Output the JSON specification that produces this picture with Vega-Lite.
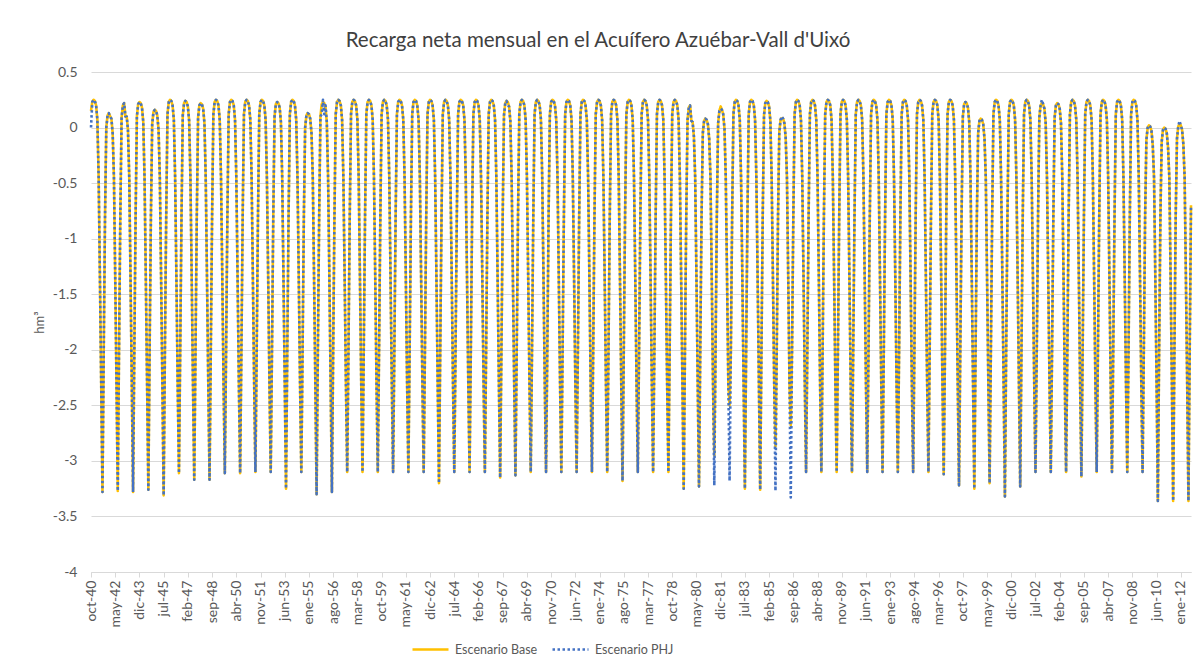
{
"$schema":"https://vega.github.io/schema/vega-lite/v6.json",
"width":1100,"height":500,
"autosize":"none",
"padding":{"left":91,"top":72,"right":5,"bottom":96},
"background":"white",
"title":{"text":"Recarga neta mensual en el Acuífero Azuébar-Vall d'Uixó","font":"Lato","fontSize":20.5,"fontWeight":"normal","color":"#404040","dx":-43,"offset":14,"anchor":"middle"},
"data":{"values":[
{"m":"oct-40","Base":0.15,"PHJ":0},{"m":"nov-40","Base":0.23,"PHJ":0.23},{"m":"dic-40","Base":0.25,"PHJ":0.25},{"m":"ene-41","Base":0.24,"PHJ":0.24},{"m":"feb-41","Base":0.2,"PHJ":0.2},{"m":"mar-41","Base":0.07,"PHJ":0.07},{"m":"abr-41","Base":-0.45,"PHJ":-0.45},{"m":"may-41","Base":-1.35,"PHJ":-1.35},{"m":"jun-41","Base":-2.3,"PHJ":-2.3},{"m":"jul-41","Base":-3.28,"PHJ":-3.28},{"m":"ago-41","Base":-2,"PHJ":-2},{"m":"sep-41","Base":-0.8,"PHJ":-0.8},
{"m":"oct-41","Base":0,"PHJ":0},{"m":"nov-41","Base":0.11,"PHJ":0.11},{"m":"dic-41","Base":0.13,"PHJ":0.13},{"m":"ene-42","Base":0.1,"PHJ":0.1},{"m":"feb-42","Base":0.08,"PHJ":0.08},{"m":"mar-42","Base":-0.05,"PHJ":-0.05},{"m":"abr-42","Base":-0.45,"PHJ":-0.45},{"m":"may-42","Base":-1.35,"PHJ":-1.35},{"m":"jun-42","Base":-2.3,"PHJ":-2.3},{"m":"jul-42","Base":-3.27,"PHJ":-3.27},{"m":"ago-42","Base":-2,"PHJ":-2},{"m":"sep-42","Base":-0.8,"PHJ":-0.8},
{"m":"oct-42","Base":0.09,"PHJ":0.09},{"m":"nov-42","Base":0.2,"PHJ":0.2},{"m":"dic-42","Base":0.22,"PHJ":0.22},{"m":"ene-43","Base":0.1,"PHJ":0.1},{"m":"feb-43","Base":0.1,"PHJ":0.1},{"m":"mar-43","Base":-0.02,"PHJ":-0.02},{"m":"abr-43","Base":-0.45,"PHJ":-0.45},{"m":"may-43","Base":-1.35,"PHJ":-1.35},{"m":"jun-43","Base":-2.3,"PHJ":-2.3},{"m":"jul-43","Base":-3.28,"PHJ":-3.28},{"m":"ago-43","Base":-2,"PHJ":-2},{"m":"sep-43","Base":-0.8,"PHJ":-0.8},
{"m":"oct-43","Base":0.1,"PHJ":0.1},{"m":"nov-43","Base":0.21,"PHJ":0.21},{"m":"dic-43","Base":0.23,"PHJ":0.23},{"m":"ene-44","Base":0.22,"PHJ":0.22},{"m":"feb-44","Base":0.18,"PHJ":0.18},{"m":"mar-44","Base":0.05,"PHJ":0.05},{"m":"abr-44","Base":-0.45,"PHJ":-0.45},{"m":"may-44","Base":-1.35,"PHJ":-1.35},{"m":"jun-44","Base":-2.3,"PHJ":-2.3},{"m":"jul-44","Base":-3.26,"PHJ":-3.26},{"m":"ago-44","Base":-2,"PHJ":-2},{"m":"sep-44","Base":-0.8,"PHJ":-0.8},
{"m":"oct-44","Base":0.03,"PHJ":0.03},{"m":"nov-44","Base":0.14,"PHJ":0.14},{"m":"dic-44","Base":0.16,"PHJ":0.16},{"m":"ene-45","Base":0.15,"PHJ":0.15},{"m":"feb-45","Base":0.11,"PHJ":0.11},{"m":"mar-45","Base":-0.02,"PHJ":-0.02},{"m":"abr-45","Base":-0.45,"PHJ":-0.45},{"m":"may-45","Base":-1.35,"PHJ":-1.35},{"m":"jun-45","Base":-2.3,"PHJ":-2.3},{"m":"jul-45","Base":-3.31,"PHJ":-3.31},{"m":"ago-45","Base":-2,"PHJ":-2},{"m":"sep-45","Base":-0.8,"PHJ":-0.8},
{"m":"oct-45","Base":0.12,"PHJ":0.12},{"m":"nov-45","Base":0.23,"PHJ":0.23},{"m":"dic-45","Base":0.25,"PHJ":0.25},{"m":"ene-46","Base":0.24,"PHJ":0.24},{"m":"feb-46","Base":0.2,"PHJ":0.2},{"m":"mar-46","Base":0.07,"PHJ":0.07},{"m":"abr-46","Base":-0.45,"PHJ":-0.45},{"m":"may-46","Base":-1.35,"PHJ":-1.35},{"m":"jun-46","Base":-2.3,"PHJ":-2.3},{"m":"jul-46","Base":-3.11,"PHJ":-3.11},{"m":"ago-46","Base":-2,"PHJ":-2},{"m":"sep-46","Base":-0.8,"PHJ":-0.8},
{"m":"oct-46","Base":0.11,"PHJ":0.11},{"m":"nov-46","Base":0.22,"PHJ":0.22},{"m":"dic-46","Base":0.24,"PHJ":0.24},{"m":"ene-47","Base":0.23,"PHJ":0.23},{"m":"feb-47","Base":0.19,"PHJ":0.19},{"m":"mar-47","Base":0.06,"PHJ":0.06},{"m":"abr-47","Base":-0.45,"PHJ":-0.45},{"m":"may-47","Base":-1.35,"PHJ":-1.35},{"m":"jun-47","Base":-2.3,"PHJ":-2.3},{"m":"jul-47","Base":-3.17,"PHJ":-3.17},{"m":"ago-47","Base":-2,"PHJ":-2},{"m":"sep-47","Base":-0.8,"PHJ":-0.8},
{"m":"oct-47","Base":0.09,"PHJ":0.09},{"m":"nov-47","Base":0.2,"PHJ":0.2},{"m":"dic-47","Base":0.22,"PHJ":0.22},{"m":"ene-48","Base":0.21,"PHJ":0.21},{"m":"feb-48","Base":0.17,"PHJ":0.17},{"m":"mar-48","Base":0.04,"PHJ":0.04},{"m":"abr-48","Base":-0.45,"PHJ":-0.45},{"m":"may-48","Base":-1.35,"PHJ":-1.35},{"m":"jun-48","Base":-2.3,"PHJ":-2.3},{"m":"jul-48","Base":-3.17,"PHJ":-3.17},{"m":"ago-48","Base":-2,"PHJ":-2},{"m":"sep-48","Base":-0.8,"PHJ":-0.8},
{"m":"oct-48","Base":0.12,"PHJ":0.12},{"m":"nov-48","Base":0.23,"PHJ":0.23},{"m":"dic-48","Base":0.25,"PHJ":0.25},{"m":"ene-49","Base":0.24,"PHJ":0.24},{"m":"feb-49","Base":0.2,"PHJ":0.2},{"m":"mar-49","Base":0.07,"PHJ":0.07},{"m":"abr-49","Base":-0.45,"PHJ":-0.45},{"m":"may-49","Base":-1.35,"PHJ":-1.35},{"m":"jun-49","Base":-2.3,"PHJ":-2.3},{"m":"jul-49","Base":-3.11,"PHJ":-3.11},{"m":"ago-49","Base":-2,"PHJ":-2},{"m":"sep-49","Base":-0.8,"PHJ":-0.8},
{"m":"oct-49","Base":0.12,"PHJ":0.12},{"m":"nov-49","Base":0.23,"PHJ":0.23},{"m":"dic-49","Base":0.25,"PHJ":0.25},{"m":"ene-50","Base":0.24,"PHJ":0.24},{"m":"feb-50","Base":0.2,"PHJ":0.2},{"m":"mar-50","Base":0.07,"PHJ":0.07},{"m":"abr-50","Base":-0.45,"PHJ":-0.45},{"m":"may-50","Base":-1.35,"PHJ":-1.35},{"m":"jun-50","Base":-2.3,"PHJ":-2.3},{"m":"jul-50","Base":-3.11,"PHJ":-3.11},{"m":"ago-50","Base":-2,"PHJ":-2},{"m":"sep-50","Base":-0.8,"PHJ":-0.8},
{"m":"oct-50","Base":0.12,"PHJ":0.12},{"m":"nov-50","Base":0.23,"PHJ":0.23},{"m":"dic-50","Base":0.25,"PHJ":0.25},{"m":"ene-51","Base":0.24,"PHJ":0.24},{"m":"feb-51","Base":0.2,"PHJ":0.2},{"m":"mar-51","Base":0.07,"PHJ":0.07},{"m":"abr-51","Base":-0.45,"PHJ":-0.45},{"m":"may-51","Base":-1.35,"PHJ":-1.35},{"m":"jun-51","Base":-2.3,"PHJ":-2.3},{"m":"jul-51","Base":-3.1,"PHJ":-3.1},{"m":"ago-51","Base":-2,"PHJ":-2},{"m":"sep-51","Base":-0.8,"PHJ":-0.8},
{"m":"oct-51","Base":0.12,"PHJ":0.12},{"m":"nov-51","Base":0.23,"PHJ":0.23},{"m":"dic-51","Base":0.25,"PHJ":0.25},{"m":"ene-52","Base":0.24,"PHJ":0.24},{"m":"feb-52","Base":0.2,"PHJ":0.2},{"m":"mar-52","Base":0.07,"PHJ":0.07},{"m":"abr-52","Base":-0.45,"PHJ":-0.45},{"m":"may-52","Base":-1.35,"PHJ":-1.35},{"m":"jun-52","Base":-2.3,"PHJ":-2.3},{"m":"jul-52","Base":-3.1,"PHJ":-3.1},{"m":"ago-52","Base":-2,"PHJ":-2},{"m":"sep-52","Base":-0.8,"PHJ":-0.8},
{"m":"oct-52","Base":0.1,"PHJ":0.1},{"m":"nov-52","Base":0.21,"PHJ":0.21},{"m":"dic-52","Base":0.23,"PHJ":0.23},{"m":"ene-53","Base":0.22,"PHJ":0.22},{"m":"feb-53","Base":0.18,"PHJ":0.18},{"m":"mar-53","Base":0.05,"PHJ":0.05},{"m":"abr-53","Base":-0.45,"PHJ":-0.45},{"m":"may-53","Base":-1.35,"PHJ":-1.35},{"m":"jun-53","Base":-2.3,"PHJ":-2.3},{"m":"jul-53","Base":-3.25,"PHJ":-3.25},{"m":"ago-53","Base":-2,"PHJ":-2},{"m":"sep-53","Base":-0.8,"PHJ":-0.8},
{"m":"oct-53","Base":0.12,"PHJ":0.12},{"m":"nov-53","Base":0.23,"PHJ":0.23},{"m":"dic-53","Base":0.25,"PHJ":0.25},{"m":"ene-54","Base":0.24,"PHJ":0.24},{"m":"feb-54","Base":0.2,"PHJ":0.2},{"m":"mar-54","Base":0.07,"PHJ":0.07},{"m":"abr-54","Base":-0.45,"PHJ":-0.45},{"m":"may-54","Base":-1.35,"PHJ":-1.35},{"m":"jun-54","Base":-2.3,"PHJ":-2.3},{"m":"jul-54","Base":-3.1,"PHJ":-3.1},{"m":"ago-54","Base":-2,"PHJ":-2},{"m":"sep-54","Base":-0.8,"PHJ":-0.8},
{"m":"oct-54","Base":0,"PHJ":0},{"m":"nov-54","Base":0.11,"PHJ":0.11},{"m":"dic-54","Base":0.13,"PHJ":0.13},{"m":"ene-55","Base":0.12,"PHJ":0.12},{"m":"feb-55","Base":0.08,"PHJ":0.08},{"m":"mar-55","Base":-0.05,"PHJ":-0.05},{"m":"abr-55","Base":-0.45,"PHJ":-0.45},{"m":"may-55","Base":-1.35,"PHJ":-1.35},{"m":"jun-55","Base":-2.3,"PHJ":-2.3},{"m":"jul-55","Base":-3.3,"PHJ":-3.3},{"m":"ago-55","Base":-2,"PHJ":-2},{"m":"sep-55","Base":-0.8,"PHJ":-0.8},
{"m":"oct-55","Base":0.1,"PHJ":0.1},{"m":"nov-55","Base":0.21,"PHJ":0.12},{"m":"dic-55","Base":0.23,"PHJ":0.25},{"m":"ene-56","Base":0.22,"PHJ":0.12},{"m":"feb-56","Base":0.18,"PHJ":0.2},{"m":"mar-56","Base":0.05,"PHJ":0.05},{"m":"abr-56","Base":-0.45,"PHJ":-0.45},{"m":"may-56","Base":-1.35,"PHJ":-1.35},{"m":"jun-56","Base":-2.3,"PHJ":-2.3},{"m":"jul-56","Base":-3.28,"PHJ":-3.28},{"m":"ago-56","Base":-2,"PHJ":-2},{"m":"sep-56","Base":-0.8,"PHJ":-0.8},
{"m":"oct-56","Base":0.12,"PHJ":0.12},{"m":"nov-56","Base":0.23,"PHJ":0.23},{"m":"dic-56","Base":0.25,"PHJ":0.25},{"m":"ene-57","Base":0.24,"PHJ":0.24},{"m":"feb-57","Base":0.2,"PHJ":0.2},{"m":"mar-57","Base":0.07,"PHJ":0.07},{"m":"abr-57","Base":-0.45,"PHJ":-0.45},{"m":"may-57","Base":-1.35,"PHJ":-1.35},{"m":"jun-57","Base":-2.3,"PHJ":-2.3},{"m":"jul-57","Base":-3.1,"PHJ":-3.1},{"m":"ago-57","Base":-2,"PHJ":-2},{"m":"sep-57","Base":-0.8,"PHJ":-0.8},
{"m":"oct-57","Base":0.12,"PHJ":0.12},{"m":"nov-57","Base":0.23,"PHJ":0.23},{"m":"dic-57","Base":0.25,"PHJ":0.25},{"m":"ene-58","Base":0.24,"PHJ":0.24},{"m":"feb-58","Base":0.2,"PHJ":0.2},{"m":"mar-58","Base":0.07,"PHJ":0.07},{"m":"abr-58","Base":-0.45,"PHJ":-0.45},{"m":"may-58","Base":-1.35,"PHJ":-1.35},{"m":"jun-58","Base":-2.3,"PHJ":-2.3},{"m":"jul-58","Base":-3.1,"PHJ":-3.1},{"m":"ago-58","Base":-2,"PHJ":-2},{"m":"sep-58","Base":-0.8,"PHJ":-0.8},
{"m":"oct-58","Base":0.12,"PHJ":0.12},{"m":"nov-58","Base":0.23,"PHJ":0.23},{"m":"dic-58","Base":0.25,"PHJ":0.25},{"m":"ene-59","Base":0.24,"PHJ":0.24},{"m":"feb-59","Base":0.2,"PHJ":0.2},{"m":"mar-59","Base":0.07,"PHJ":0.07},{"m":"abr-59","Base":-0.45,"PHJ":-0.45},{"m":"may-59","Base":-1.35,"PHJ":-1.35},{"m":"jun-59","Base":-2.3,"PHJ":-2.3},{"m":"jul-59","Base":-3.1,"PHJ":-3.1},{"m":"ago-59","Base":-2,"PHJ":-2},{"m":"sep-59","Base":-0.8,"PHJ":-0.8},
{"m":"oct-59","Base":0.12,"PHJ":0.12},{"m":"nov-59","Base":0.23,"PHJ":0.23},{"m":"dic-59","Base":0.25,"PHJ":0.25},{"m":"ene-60","Base":0.24,"PHJ":0.24},{"m":"feb-60","Base":0.2,"PHJ":0.2},{"m":"mar-60","Base":0.07,"PHJ":0.07},{"m":"abr-60","Base":-0.45,"PHJ":-0.45},{"m":"may-60","Base":-1.35,"PHJ":-1.35},{"m":"jun-60","Base":-2.3,"PHJ":-2.3},{"m":"jul-60","Base":-3.1,"PHJ":-3.1},{"m":"ago-60","Base":-2,"PHJ":-2},{"m":"sep-60","Base":-0.8,"PHJ":-0.8},
{"m":"oct-60","Base":0.12,"PHJ":0.12},{"m":"nov-60","Base":0.23,"PHJ":0.23},{"m":"dic-60","Base":0.25,"PHJ":0.25},{"m":"ene-61","Base":0.24,"PHJ":0.24},{"m":"feb-61","Base":0.2,"PHJ":0.2},{"m":"mar-61","Base":0.07,"PHJ":0.07},{"m":"abr-61","Base":-0.45,"PHJ":-0.45},{"m":"may-61","Base":-1.35,"PHJ":-1.35},{"m":"jun-61","Base":-2.3,"PHJ":-2.3},{"m":"jul-61","Base":-3.1,"PHJ":-3.1},{"m":"ago-61","Base":-2,"PHJ":-2},{"m":"sep-61","Base":-0.8,"PHJ":-0.8},
{"m":"oct-61","Base":0.12,"PHJ":0.12},{"m":"nov-61","Base":0.23,"PHJ":0.23},{"m":"dic-61","Base":0.25,"PHJ":0.25},{"m":"ene-62","Base":0.24,"PHJ":0.24},{"m":"feb-62","Base":0.2,"PHJ":0.2},{"m":"mar-62","Base":0.07,"PHJ":0.07},{"m":"abr-62","Base":-0.45,"PHJ":-0.45},{"m":"may-62","Base":-1.35,"PHJ":-1.35},{"m":"jun-62","Base":-2.3,"PHJ":-2.3},{"m":"jul-62","Base":-3.1,"PHJ":-3.1},{"m":"ago-62","Base":-2,"PHJ":-2},{"m":"sep-62","Base":-0.8,"PHJ":-0.8},
{"m":"oct-62","Base":0.12,"PHJ":0.12},{"m":"nov-62","Base":0.23,"PHJ":0.23},{"m":"dic-62","Base":0.25,"PHJ":0.25},{"m":"ene-63","Base":0.24,"PHJ":0.24},{"m":"feb-63","Base":0.2,"PHJ":0.2},{"m":"mar-63","Base":0.07,"PHJ":0.07},{"m":"abr-63","Base":-0.45,"PHJ":-0.45},{"m":"may-63","Base":-1.35,"PHJ":-1.35},{"m":"jun-63","Base":-2.3,"PHJ":-2.3},{"m":"jul-63","Base":-3.2,"PHJ":-3.2},{"m":"ago-63","Base":-2,"PHJ":-2},{"m":"sep-63","Base":-0.8,"PHJ":-0.8},
{"m":"oct-63","Base":0.12,"PHJ":0.12},{"m":"nov-63","Base":0.23,"PHJ":0.23},{"m":"dic-63","Base":0.25,"PHJ":0.25},{"m":"ene-64","Base":0.24,"PHJ":0.24},{"m":"feb-64","Base":0.2,"PHJ":0.2},{"m":"mar-64","Base":0.07,"PHJ":0.07},{"m":"abr-64","Base":-0.45,"PHJ":-0.45},{"m":"may-64","Base":-1.35,"PHJ":-1.35},{"m":"jun-64","Base":-2.3,"PHJ":-2.3},{"m":"jul-64","Base":-3.1,"PHJ":-3.1},{"m":"ago-64","Base":-2,"PHJ":-2},{"m":"sep-64","Base":-0.8,"PHJ":-0.8},
{"m":"oct-64","Base":0.12,"PHJ":0.12},{"m":"nov-64","Base":0.23,"PHJ":0.23},{"m":"dic-64","Base":0.25,"PHJ":0.25},{"m":"ene-65","Base":0.24,"PHJ":0.24},{"m":"feb-65","Base":0.2,"PHJ":0.2},{"m":"mar-65","Base":0.07,"PHJ":0.07},{"m":"abr-65","Base":-0.45,"PHJ":-0.45},{"m":"may-65","Base":-1.35,"PHJ":-1.35},{"m":"jun-65","Base":-2.3,"PHJ":-2.3},{"m":"jul-65","Base":-3.1,"PHJ":-3.1},{"m":"ago-65","Base":-2,"PHJ":-2},{"m":"sep-65","Base":-0.8,"PHJ":-0.8},
{"m":"oct-65","Base":0.12,"PHJ":0.12},{"m":"nov-65","Base":0.23,"PHJ":0.23},{"m":"dic-65","Base":0.25,"PHJ":0.25},{"m":"ene-66","Base":0.24,"PHJ":0.24},{"m":"feb-66","Base":0.2,"PHJ":0.2},{"m":"mar-66","Base":0.07,"PHJ":0.07},{"m":"abr-66","Base":-0.45,"PHJ":-0.45},{"m":"may-66","Base":-1.35,"PHJ":-1.35},{"m":"jun-66","Base":-2.3,"PHJ":-2.3},{"m":"jul-66","Base":-3.1,"PHJ":-3.1},{"m":"ago-66","Base":-2,"PHJ":-2},{"m":"sep-66","Base":-0.8,"PHJ":-0.8},
{"m":"oct-66","Base":0.12,"PHJ":0.12},{"m":"nov-66","Base":0.23,"PHJ":0.23},{"m":"dic-66","Base":0.25,"PHJ":0.25},{"m":"ene-67","Base":0.24,"PHJ":0.24},{"m":"feb-67","Base":0.2,"PHJ":0.2},{"m":"mar-67","Base":0.07,"PHJ":0.07},{"m":"abr-67","Base":-0.45,"PHJ":-0.45},{"m":"may-67","Base":-1.35,"PHJ":-1.35},{"m":"jun-67","Base":-2.3,"PHJ":-2.3},{"m":"jul-67","Base":-3.15,"PHJ":-3.15},{"m":"ago-67","Base":-2,"PHJ":-2},{"m":"sep-67","Base":-0.8,"PHJ":-0.8},
{"m":"oct-67","Base":0.11,"PHJ":0.11},{"m":"nov-67","Base":0.22,"PHJ":0.22},{"m":"dic-67","Base":0.24,"PHJ":0.24},{"m":"ene-68","Base":0.23,"PHJ":0.2},{"m":"feb-68","Base":0.19,"PHJ":0.19},{"m":"mar-68","Base":0.06,"PHJ":0.06},{"m":"abr-68","Base":-0.45,"PHJ":-0.45},{"m":"may-68","Base":-1.35,"PHJ":-1.35},{"m":"jun-68","Base":-2.3,"PHJ":-2.3},{"m":"jul-68","Base":-3.13,"PHJ":-3.13},{"m":"ago-68","Base":-2,"PHJ":-2},{"m":"sep-68","Base":-0.8,"PHJ":-0.8},
{"m":"oct-68","Base":0.12,"PHJ":0.12},{"m":"nov-68","Base":0.23,"PHJ":0.23},{"m":"dic-68","Base":0.25,"PHJ":0.25},{"m":"ene-69","Base":0.24,"PHJ":0.24},{"m":"feb-69","Base":0.2,"PHJ":0.2},{"m":"mar-69","Base":0.07,"PHJ":0.07},{"m":"abr-69","Base":-0.45,"PHJ":-0.45},{"m":"may-69","Base":-1.35,"PHJ":-1.35},{"m":"jun-69","Base":-2.3,"PHJ":-2.3},{"m":"jul-69","Base":-3.1,"PHJ":-3.1},{"m":"ago-69","Base":-2,"PHJ":-2},{"m":"sep-69","Base":-0.8,"PHJ":-0.8},
{"m":"oct-69","Base":0.12,"PHJ":0.12},{"m":"nov-69","Base":0.23,"PHJ":0.23},{"m":"dic-69","Base":0.25,"PHJ":0.25},{"m":"ene-70","Base":0.24,"PHJ":0.24},{"m":"feb-70","Base":0.2,"PHJ":0.2},{"m":"mar-70","Base":0.07,"PHJ":0.07},{"m":"abr-70","Base":-0.45,"PHJ":-0.45},{"m":"may-70","Base":-1.35,"PHJ":-1.35},{"m":"jun-70","Base":-2.3,"PHJ":-2.3},{"m":"jul-70","Base":-3.1,"PHJ":-3.1},{"m":"ago-70","Base":-2,"PHJ":-2},{"m":"sep-70","Base":-0.8,"PHJ":-0.8},
{"m":"oct-70","Base":0.12,"PHJ":0.12},{"m":"nov-70","Base":0.23,"PHJ":0.23},{"m":"dic-70","Base":0.25,"PHJ":0.25},{"m":"ene-71","Base":0.24,"PHJ":0.24},{"m":"feb-71","Base":0.2,"PHJ":0.2},{"m":"mar-71","Base":0.07,"PHJ":0.07},{"m":"abr-71","Base":-0.45,"PHJ":-0.45},{"m":"may-71","Base":-1.35,"PHJ":-1.35},{"m":"jun-71","Base":-2.3,"PHJ":-2.3},{"m":"jul-71","Base":-3.1,"PHJ":-3.1},{"m":"ago-71","Base":-2,"PHJ":-2},{"m":"sep-71","Base":-0.8,"PHJ":-0.8},
{"m":"oct-71","Base":0.12,"PHJ":0.12},{"m":"nov-71","Base":0.23,"PHJ":0.23},{"m":"dic-71","Base":0.25,"PHJ":0.25},{"m":"ene-72","Base":0.24,"PHJ":0.24},{"m":"feb-72","Base":0.2,"PHJ":0.2},{"m":"mar-72","Base":0.07,"PHJ":0.07},{"m":"abr-72","Base":-0.45,"PHJ":-0.45},{"m":"may-72","Base":-1.35,"PHJ":-1.35},{"m":"jun-72","Base":-2.3,"PHJ":-2.3},{"m":"jul-72","Base":-3.1,"PHJ":-3.1},{"m":"ago-72","Base":-2,"PHJ":-2},{"m":"sep-72","Base":-0.8,"PHJ":-0.8},
{"m":"oct-72","Base":0.12,"PHJ":0.12},{"m":"nov-72","Base":0.23,"PHJ":0.23},{"m":"dic-72","Base":0.25,"PHJ":0.25},{"m":"ene-73","Base":0.24,"PHJ":0.24},{"m":"feb-73","Base":0.2,"PHJ":0.2},{"m":"mar-73","Base":0.07,"PHJ":0.07},{"m":"abr-73","Base":-0.45,"PHJ":-0.45},{"m":"may-73","Base":-1.35,"PHJ":-1.35},{"m":"jun-73","Base":-2.3,"PHJ":-2.3},{"m":"jul-73","Base":-3.1,"PHJ":-3.1},{"m":"ago-73","Base":-2,"PHJ":-2},{"m":"sep-73","Base":-0.8,"PHJ":-0.8},
{"m":"oct-73","Base":0.12,"PHJ":0.12},{"m":"nov-73","Base":0.23,"PHJ":0.23},{"m":"dic-73","Base":0.25,"PHJ":0.25},{"m":"ene-74","Base":0.24,"PHJ":0.24},{"m":"feb-74","Base":0.2,"PHJ":0.2},{"m":"mar-74","Base":0.07,"PHJ":0.07},{"m":"abr-74","Base":-0.45,"PHJ":-0.45},{"m":"may-74","Base":-1.35,"PHJ":-1.35},{"m":"jun-74","Base":-2.3,"PHJ":-2.3},{"m":"jul-74","Base":-3.1,"PHJ":-3.1},{"m":"ago-74","Base":-2,"PHJ":-2},{"m":"sep-74","Base":-0.8,"PHJ":-0.8},
{"m":"oct-74","Base":0.12,"PHJ":0.12},{"m":"nov-74","Base":0.23,"PHJ":0.23},{"m":"dic-74","Base":0.25,"PHJ":0.25},{"m":"ene-75","Base":0.24,"PHJ":0.24},{"m":"feb-75","Base":0.2,"PHJ":0.2},{"m":"mar-75","Base":0.07,"PHJ":0.07},{"m":"abr-75","Base":-0.45,"PHJ":-0.45},{"m":"may-75","Base":-1.35,"PHJ":-1.35},{"m":"jun-75","Base":-2.3,"PHJ":-2.3},{"m":"jul-75","Base":-3.18,"PHJ":-3.18},{"m":"ago-75","Base":-2,"PHJ":-2},{"m":"sep-75","Base":-0.8,"PHJ":-0.8},
{"m":"oct-75","Base":0.12,"PHJ":0.12},{"m":"nov-75","Base":0.23,"PHJ":0.23},{"m":"dic-75","Base":0.25,"PHJ":0.25},{"m":"ene-76","Base":0.24,"PHJ":0.24},{"m":"feb-76","Base":0.2,"PHJ":0.2},{"m":"mar-76","Base":0.07,"PHJ":0.07},{"m":"abr-76","Base":-0.45,"PHJ":-0.45},{"m":"may-76","Base":-1.35,"PHJ":-1.35},{"m":"jun-76","Base":-2.3,"PHJ":-2.3},{"m":"jul-76","Base":-3.1,"PHJ":-3.1},{"m":"ago-76","Base":-2,"PHJ":-2},{"m":"sep-76","Base":-0.8,"PHJ":-0.8},
{"m":"oct-76","Base":0.12,"PHJ":0.12},{"m":"nov-76","Base":0.23,"PHJ":0.23},{"m":"dic-76","Base":0.25,"PHJ":0.25},{"m":"ene-77","Base":0.24,"PHJ":0.24},{"m":"feb-77","Base":0.2,"PHJ":0.2},{"m":"mar-77","Base":0.07,"PHJ":0.07},{"m":"abr-77","Base":-0.45,"PHJ":-0.45},{"m":"may-77","Base":-1.35,"PHJ":-1.35},{"m":"jun-77","Base":-2.3,"PHJ":-2.3},{"m":"jul-77","Base":-3.1,"PHJ":-3.1},{"m":"ago-77","Base":-2,"PHJ":-2},{"m":"sep-77","Base":-0.8,"PHJ":-0.8},
{"m":"oct-77","Base":0.12,"PHJ":0.12},{"m":"nov-77","Base":0.23,"PHJ":0.23},{"m":"dic-77","Base":0.25,"PHJ":0.25},{"m":"ene-78","Base":0.24,"PHJ":0.24},{"m":"feb-78","Base":0.2,"PHJ":0.2},{"m":"mar-78","Base":0.07,"PHJ":0.07},{"m":"abr-78","Base":-0.45,"PHJ":-0.45},{"m":"may-78","Base":-1.35,"PHJ":-1.35},{"m":"jun-78","Base":-2.3,"PHJ":-2.3},{"m":"jul-78","Base":-3.1,"PHJ":-3.1},{"m":"ago-78","Base":-2,"PHJ":-2},{"m":"sep-78","Base":-0.8,"PHJ":-0.8},
{"m":"oct-78","Base":0.12,"PHJ":0.12},{"m":"nov-78","Base":0.23,"PHJ":0.23},{"m":"dic-78","Base":0.25,"PHJ":0.25},{"m":"ene-79","Base":0.24,"PHJ":0.24},{"m":"feb-79","Base":0.2,"PHJ":0.2},{"m":"mar-79","Base":0.07,"PHJ":0.07},{"m":"abr-79","Base":-0.45,"PHJ":-0.45},{"m":"may-79","Base":-1.35,"PHJ":-1.35},{"m":"jun-79","Base":-2.3,"PHJ":-2.3},{"m":"jul-79","Base":-3.25,"PHJ":-3.25},{"m":"ago-79","Base":-2,"PHJ":-2},{"m":"sep-79","Base":-0.8,"PHJ":-0.8},
{"m":"oct-79","Base":0.07,"PHJ":0.07},{"m":"nov-79","Base":0.18,"PHJ":0.18},{"m":"dic-79","Base":0.2,"PHJ":0.2},{"m":"ene-80","Base":0.06,"PHJ":0.06},{"m":"feb-80","Base":0.05,"PHJ":0.05},{"m":"mar-80","Base":-0.08,"PHJ":-0.08},{"m":"abr-80","Base":-0.45,"PHJ":-0.45},{"m":"may-80","Base":-1.35,"PHJ":-1.35},{"m":"jun-80","Base":-2.3,"PHJ":-2.3},{"m":"jul-80","Base":-3.23,"PHJ":-3.23},{"m":"ago-80","Base":-2,"PHJ":-2},{"m":"sep-80","Base":-0.8,"PHJ":-0.8},
{"m":"oct-80","Base":-0.05,"PHJ":-0.05},{"m":"nov-80","Base":0.06,"PHJ":0.06},{"m":"dic-80","Base":0.08,"PHJ":0.08},{"m":"ene-81","Base":0.07,"PHJ":0.07},{"m":"feb-81","Base":0.03,"PHJ":0.03},{"m":"mar-81","Base":-0.1,"PHJ":-0.1},{"m":"abr-81","Base":-0.45,"PHJ":-0.45},{"m":"may-81","Base":-1.35,"PHJ":-1.35},{"m":"jun-81","Base":-2.3,"PHJ":-2.3},{"m":"jul-81","Base":-2.95,"PHJ":-3.22},{"m":"ago-81","Base":-2,"PHJ":-2},{"m":"sep-81","Base":-0.8,"PHJ":-0.8},
{"m":"oct-81","Base":0.04,"PHJ":0.04},{"m":"nov-81","Base":0.15,"PHJ":0.15},{"m":"dic-81","Base":0.19,"PHJ":0.17},{"m":"ene-82","Base":0.16,"PHJ":0.16},{"m":"feb-82","Base":0.12,"PHJ":0.12},{"m":"mar-82","Base":-0.01,"PHJ":-0.01},{"m":"abr-82","Base":-0.45,"PHJ":-0.45},{"m":"may-82","Base":-1.35,"PHJ":-1.35},{"m":"jun-82","Base":-2.3,"PHJ":-2.3},{"m":"jul-82","Base":-2.5,"PHJ":-3.18},{"m":"ago-82","Base":-2,"PHJ":-2},{"m":"sep-82","Base":-0.8,"PHJ":-0.8},
{"m":"oct-82","Base":0.12,"PHJ":0.12},{"m":"nov-82","Base":0.23,"PHJ":0.23},{"m":"dic-82","Base":0.25,"PHJ":0.25},{"m":"ene-83","Base":0.24,"PHJ":0.24},{"m":"feb-83","Base":0.2,"PHJ":0.2},{"m":"mar-83","Base":0.07,"PHJ":0.07},{"m":"abr-83","Base":-0.45,"PHJ":-0.45},{"m":"may-83","Base":-1.35,"PHJ":-1.35},{"m":"jun-83","Base":-2.3,"PHJ":-2.3},{"m":"jul-83","Base":-3.25,"PHJ":-3.25},{"m":"ago-83","Base":-2,"PHJ":-2},{"m":"sep-83","Base":-0.8,"PHJ":-0.8},
{"m":"oct-83","Base":0.12,"PHJ":0.12},{"m":"nov-83","Base":0.23,"PHJ":0.23},{"m":"dic-83","Base":0.25,"PHJ":0.25},{"m":"ene-84","Base":0.24,"PHJ":0.24},{"m":"feb-84","Base":0.2,"PHJ":0.2},{"m":"mar-84","Base":0.07,"PHJ":0.07},{"m":"abr-84","Base":-0.45,"PHJ":-0.45},{"m":"may-84","Base":-1.35,"PHJ":-1.35},{"m":"jun-84","Base":-2.3,"PHJ":-2.3},{"m":"jul-84","Base":-3.26,"PHJ":-3.26},{"m":"ago-84","Base":-2,"PHJ":-2},{"m":"sep-84","Base":-0.8,"PHJ":-0.8},
{"m":"oct-84","Base":0.11,"PHJ":0.11},{"m":"nov-84","Base":0.22,"PHJ":0.22},{"m":"dic-84","Base":0.24,"PHJ":0.24},{"m":"ene-85","Base":0.23,"PHJ":0.23},{"m":"feb-85","Base":0.19,"PHJ":0.19},{"m":"mar-85","Base":0.06,"PHJ":0.06},{"m":"abr-85","Base":-0.45,"PHJ":-0.45},{"m":"may-85","Base":-1.35,"PHJ":-1.35},{"m":"jun-85","Base":-2.3,"PHJ":-2.3},{"m":"jul-85","Base":-2.87,"PHJ":-3.27},{"m":"ago-85","Base":-2,"PHJ":-2},{"m":"sep-85","Base":-0.8,"PHJ":-0.8},
{"m":"oct-85","Base":-0.04,"PHJ":-0.04},{"m":"nov-85","Base":0.07,"PHJ":0.07},{"m":"dic-85","Base":0.09,"PHJ":0.1},{"m":"ene-86","Base":0.08,"PHJ":0.08},{"m":"feb-86","Base":0.04,"PHJ":0.04},{"m":"mar-86","Base":-0.09,"PHJ":-0.09},{"m":"abr-86","Base":-0.45,"PHJ":-0.45},{"m":"may-86","Base":-1.35,"PHJ":-1.35},{"m":"jun-86","Base":-2.3,"PHJ":-2.3},{"m":"jul-86","Base":-2.68,"PHJ":-3.33},{"m":"ago-86","Base":-2,"PHJ":-2},{"m":"sep-86","Base":-0.8,"PHJ":-0.8},
{"m":"oct-86","Base":0.12,"PHJ":0.12},{"m":"nov-86","Base":0.23,"PHJ":0.23},{"m":"dic-86","Base":0.25,"PHJ":0.25},{"m":"ene-87","Base":0.24,"PHJ":0.24},{"m":"feb-87","Base":0.2,"PHJ":0.2},{"m":"mar-87","Base":0.07,"PHJ":0.07},{"m":"abr-87","Base":-0.45,"PHJ":-0.45},{"m":"may-87","Base":-1.35,"PHJ":-1.35},{"m":"jun-87","Base":-2.3,"PHJ":-2.3},{"m":"jul-87","Base":-3.1,"PHJ":-3.1},{"m":"ago-87","Base":-2,"PHJ":-2},{"m":"sep-87","Base":-0.8,"PHJ":-0.8},
{"m":"oct-87","Base":0.12,"PHJ":0.12},{"m":"nov-87","Base":0.23,"PHJ":0.23},{"m":"dic-87","Base":0.25,"PHJ":0.25},{"m":"ene-88","Base":0.24,"PHJ":0.24},{"m":"feb-88","Base":0.2,"PHJ":0.2},{"m":"mar-88","Base":0.07,"PHJ":0.07},{"m":"abr-88","Base":-0.45,"PHJ":-0.45},{"m":"may-88","Base":-1.35,"PHJ":-1.35},{"m":"jun-88","Base":-2.3,"PHJ":-2.3},{"m":"jul-88","Base":-3.1,"PHJ":-3.1},{"m":"ago-88","Base":-2,"PHJ":-2},{"m":"sep-88","Base":-0.8,"PHJ":-0.8},
{"m":"oct-88","Base":0.12,"PHJ":0.12},{"m":"nov-88","Base":0.23,"PHJ":0.23},{"m":"dic-88","Base":0.25,"PHJ":0.25},{"m":"ene-89","Base":0.24,"PHJ":0.24},{"m":"feb-89","Base":0.2,"PHJ":0.2},{"m":"mar-89","Base":0.07,"PHJ":0.07},{"m":"abr-89","Base":-0.45,"PHJ":-0.45},{"m":"may-89","Base":-1.35,"PHJ":-1.35},{"m":"jun-89","Base":-2.3,"PHJ":-2.3},{"m":"jul-89","Base":-3.1,"PHJ":-3.1},{"m":"ago-89","Base":-2,"PHJ":-2},{"m":"sep-89","Base":-0.8,"PHJ":-0.8},
{"m":"oct-89","Base":0.12,"PHJ":0.12},{"m":"nov-89","Base":0.23,"PHJ":0.23},{"m":"dic-89","Base":0.25,"PHJ":0.25},{"m":"ene-90","Base":0.24,"PHJ":0.24},{"m":"feb-90","Base":0.2,"PHJ":0.2},{"m":"mar-90","Base":0.07,"PHJ":0.07},{"m":"abr-90","Base":-0.45,"PHJ":-0.45},{"m":"may-90","Base":-1.35,"PHJ":-1.35},{"m":"jun-90","Base":-2.3,"PHJ":-2.3},{"m":"jul-90","Base":-3.1,"PHJ":-3.1},{"m":"ago-90","Base":-2,"PHJ":-2},{"m":"sep-90","Base":-0.8,"PHJ":-0.8},
{"m":"oct-90","Base":0.12,"PHJ":0.12},{"m":"nov-90","Base":0.23,"PHJ":0.23},{"m":"dic-90","Base":0.25,"PHJ":0.25},{"m":"ene-91","Base":0.24,"PHJ":0.24},{"m":"feb-91","Base":0.2,"PHJ":0.2},{"m":"mar-91","Base":0.07,"PHJ":0.07},{"m":"abr-91","Base":-0.45,"PHJ":-0.45},{"m":"may-91","Base":-1.35,"PHJ":-1.35},{"m":"jun-91","Base":-2.3,"PHJ":-2.3},{"m":"jul-91","Base":-3.1,"PHJ":-3.1},{"m":"ago-91","Base":-2,"PHJ":-2},{"m":"sep-91","Base":-0.8,"PHJ":-0.8},
{"m":"oct-91","Base":0.12,"PHJ":0.12},{"m":"nov-91","Base":0.23,"PHJ":0.23},{"m":"dic-91","Base":0.25,"PHJ":0.25},{"m":"ene-92","Base":0.24,"PHJ":0.24},{"m":"feb-92","Base":0.2,"PHJ":0.2},{"m":"mar-92","Base":0.07,"PHJ":0.07},{"m":"abr-92","Base":-0.45,"PHJ":-0.45},{"m":"may-92","Base":-1.35,"PHJ":-1.35},{"m":"jun-92","Base":-2.3,"PHJ":-2.3},{"m":"jul-92","Base":-3.1,"PHJ":-3.1},{"m":"ago-92","Base":-2,"PHJ":-2},{"m":"sep-92","Base":-0.8,"PHJ":-0.8},
{"m":"oct-92","Base":0.12,"PHJ":0.12},{"m":"nov-92","Base":0.23,"PHJ":0.23},{"m":"dic-92","Base":0.25,"PHJ":0.25},{"m":"ene-93","Base":0.24,"PHJ":0.24},{"m":"feb-93","Base":0.2,"PHJ":0.2},{"m":"mar-93","Base":0.07,"PHJ":0.07},{"m":"abr-93","Base":-0.45,"PHJ":-0.45},{"m":"may-93","Base":-1.35,"PHJ":-1.35},{"m":"jun-93","Base":-2.3,"PHJ":-2.3},{"m":"jul-93","Base":-3.1,"PHJ":-3.1},{"m":"ago-93","Base":-2,"PHJ":-2},{"m":"sep-93","Base":-0.8,"PHJ":-0.8},
{"m":"oct-93","Base":0.12,"PHJ":0.12},{"m":"nov-93","Base":0.23,"PHJ":0.23},{"m":"dic-93","Base":0.25,"PHJ":0.25},{"m":"ene-94","Base":0.24,"PHJ":0.24},{"m":"feb-94","Base":0.2,"PHJ":0.2},{"m":"mar-94","Base":0.07,"PHJ":0.07},{"m":"abr-94","Base":-0.45,"PHJ":-0.45},{"m":"may-94","Base":-1.35,"PHJ":-1.35},{"m":"jun-94","Base":-2.3,"PHJ":-2.3},{"m":"jul-94","Base":-3.1,"PHJ":-3.1},{"m":"ago-94","Base":-2,"PHJ":-2},{"m":"sep-94","Base":-0.8,"PHJ":-0.8},
{"m":"oct-94","Base":0.12,"PHJ":0.12},{"m":"nov-94","Base":0.23,"PHJ":0.23},{"m":"dic-94","Base":0.25,"PHJ":0.25},{"m":"ene-95","Base":0.24,"PHJ":0.24},{"m":"feb-95","Base":0.2,"PHJ":0.2},{"m":"mar-95","Base":0.07,"PHJ":0.07},{"m":"abr-95","Base":-0.45,"PHJ":-0.45},{"m":"may-95","Base":-1.35,"PHJ":-1.35},{"m":"jun-95","Base":-2.3,"PHJ":-2.3},{"m":"jul-95","Base":-3.1,"PHJ":-3.1},{"m":"ago-95","Base":-2,"PHJ":-2},{"m":"sep-95","Base":-0.8,"PHJ":-0.8},
{"m":"oct-95","Base":0.12,"PHJ":0.12},{"m":"nov-95","Base":0.23,"PHJ":0.23},{"m":"dic-95","Base":0.25,"PHJ":0.25},{"m":"ene-96","Base":0.24,"PHJ":0.24},{"m":"feb-96","Base":0.2,"PHJ":0.2},{"m":"mar-96","Base":0.07,"PHJ":0.07},{"m":"abr-96","Base":-0.45,"PHJ":-0.45},{"m":"may-96","Base":-1.35,"PHJ":-1.35},{"m":"jun-96","Base":-2.3,"PHJ":-2.3},{"m":"jul-96","Base":-3.12,"PHJ":-3.12},{"m":"ago-96","Base":-2,"PHJ":-2},{"m":"sep-96","Base":-0.8,"PHJ":-0.8},
{"m":"oct-96","Base":0.12,"PHJ":0.12},{"m":"nov-96","Base":0.23,"PHJ":0.23},{"m":"dic-96","Base":0.25,"PHJ":0.25},{"m":"ene-97","Base":0.24,"PHJ":0.24},{"m":"feb-97","Base":0.2,"PHJ":0.2},{"m":"mar-97","Base":0.07,"PHJ":0.07},{"m":"abr-97","Base":-0.45,"PHJ":-0.45},{"m":"may-97","Base":-1.35,"PHJ":-1.35},{"m":"jun-97","Base":-2.3,"PHJ":-2.3},{"m":"jul-97","Base":-3.22,"PHJ":-3.22},{"m":"ago-97","Base":-2,"PHJ":-2},{"m":"sep-97","Base":-0.8,"PHJ":-0.8},
{"m":"oct-97","Base":0.1,"PHJ":0.1},{"m":"nov-97","Base":0.21,"PHJ":0.21},{"m":"dic-97","Base":0.23,"PHJ":0.23},{"m":"ene-98","Base":0.22,"PHJ":0.22},{"m":"feb-98","Base":0.18,"PHJ":0.18},{"m":"mar-98","Base":0.05,"PHJ":0.05},{"m":"abr-98","Base":-0.45,"PHJ":-0.45},{"m":"may-98","Base":-1.35,"PHJ":-1.35},{"m":"jun-98","Base":-2.3,"PHJ":-2.3},{"m":"jul-98","Base":-3.25,"PHJ":-3.25},{"m":"ago-98","Base":-2,"PHJ":-2},{"m":"sep-98","Base":-0.8,"PHJ":-0.8},
{"m":"oct-98","Base":-0.05,"PHJ":-0.05},{"m":"nov-98","Base":0.06,"PHJ":0.06},{"m":"dic-98","Base":0.08,"PHJ":0.08},{"m":"ene-99","Base":0.07,"PHJ":0.07},{"m":"feb-99","Base":0.03,"PHJ":0.03},{"m":"mar-99","Base":-0.1,"PHJ":-0.1},{"m":"abr-99","Base":-0.45,"PHJ":-0.45},{"m":"may-99","Base":-1.35,"PHJ":-1.35},{"m":"jun-99","Base":-2.3,"PHJ":-2.3},{"m":"jul-99","Base":-3.2,"PHJ":-3.2},{"m":"ago-99","Base":-2,"PHJ":-2},{"m":"sep-99","Base":-0.8,"PHJ":-0.8},
{"m":"oct-99","Base":0.12,"PHJ":0.12},{"m":"nov-99","Base":0.23,"PHJ":0.23},{"m":"dic-99","Base":0.25,"PHJ":0.25},{"m":"ene-00","Base":0.24,"PHJ":0.24},{"m":"feb-00","Base":0.2,"PHJ":0.2},{"m":"mar-00","Base":0.07,"PHJ":0.07},{"m":"abr-00","Base":-0.45,"PHJ":-0.45},{"m":"may-00","Base":-1.35,"PHJ":-1.35},{"m":"jun-00","Base":-2.3,"PHJ":-2.3},{"m":"jul-00","Base":-3.32,"PHJ":-3.32},{"m":"ago-00","Base":-2,"PHJ":-2},{"m":"sep-00","Base":-0.8,"PHJ":-0.8},
{"m":"oct-00","Base":0.12,"PHJ":0.12},{"m":"nov-00","Base":0.23,"PHJ":0.23},{"m":"dic-00","Base":0.25,"PHJ":0.25},{"m":"ene-01","Base":0.24,"PHJ":0.24},{"m":"feb-01","Base":0.2,"PHJ":0.2},{"m":"mar-01","Base":0.07,"PHJ":0.07},{"m":"abr-01","Base":-0.45,"PHJ":-0.45},{"m":"may-01","Base":-1.35,"PHJ":-1.35},{"m":"jun-01","Base":-2.3,"PHJ":-2.3},{"m":"jul-01","Base":-3.23,"PHJ":-3.23},{"m":"ago-01","Base":-2,"PHJ":-2},{"m":"sep-01","Base":-0.8,"PHJ":-0.8},
{"m":"oct-01","Base":0.12,"PHJ":0.12},{"m":"nov-01","Base":0.23,"PHJ":0.23},{"m":"dic-01","Base":0.25,"PHJ":0.25},{"m":"ene-02","Base":0.24,"PHJ":0.24},{"m":"feb-02","Base":0.2,"PHJ":0.2},{"m":"mar-02","Base":0.07,"PHJ":0.07},{"m":"abr-02","Base":-0.45,"PHJ":-0.45},{"m":"may-02","Base":-1.35,"PHJ":-1.35},{"m":"jun-02","Base":-2.3,"PHJ":-2.3},{"m":"jul-02","Base":-3.1,"PHJ":-3.1},{"m":"ago-02","Base":-2,"PHJ":-2},{"m":"sep-02","Base":-0.8,"PHJ":-0.8},
{"m":"oct-02","Base":0.09,"PHJ":0.09},{"m":"nov-02","Base":0.2,"PHJ":0.2},{"m":"dic-02","Base":0.22,"PHJ":0.25},{"m":"ene-03","Base":0.21,"PHJ":0.21},{"m":"feb-03","Base":0.17,"PHJ":0.17},{"m":"mar-03","Base":0.04,"PHJ":0.04},{"m":"abr-03","Base":-0.45,"PHJ":-0.45},{"m":"may-03","Base":-1.35,"PHJ":-1.35},{"m":"jun-03","Base":-2.3,"PHJ":-2.3},{"m":"jul-03","Base":-3.1,"PHJ":-3.1},{"m":"ago-03","Base":-2,"PHJ":-2},{"m":"sep-03","Base":-0.8,"PHJ":-0.8},
{"m":"oct-03","Base":0.09,"PHJ":0.09},{"m":"nov-03","Base":0.2,"PHJ":0.2},{"m":"dic-03","Base":0.22,"PHJ":0.22},{"m":"ene-04","Base":0.21,"PHJ":0.21},{"m":"feb-04","Base":0.17,"PHJ":0.17},{"m":"mar-04","Base":0.04,"PHJ":0.04},{"m":"abr-04","Base":-0.45,"PHJ":-0.45},{"m":"may-04","Base":-1.35,"PHJ":-1.35},{"m":"jun-04","Base":-2.3,"PHJ":-2.3},{"m":"jul-04","Base":-3.1,"PHJ":-3.1},{"m":"ago-04","Base":-2,"PHJ":-2},{"m":"sep-04","Base":-0.8,"PHJ":-0.8},
{"m":"oct-04","Base":0.12,"PHJ":0.12},{"m":"nov-04","Base":0.23,"PHJ":0.23},{"m":"dic-04","Base":0.25,"PHJ":0.25},{"m":"ene-05","Base":0.24,"PHJ":0.24},{"m":"feb-05","Base":0.2,"PHJ":0.2},{"m":"mar-05","Base":0.07,"PHJ":0.07},{"m":"abr-05","Base":-0.45,"PHJ":-0.45},{"m":"may-05","Base":-1.35,"PHJ":-1.35},{"m":"jun-05","Base":-2.3,"PHJ":-2.3},{"m":"jul-05","Base":-3.14,"PHJ":-3.14},{"m":"ago-05","Base":-2,"PHJ":-2},{"m":"sep-05","Base":-0.8,"PHJ":-0.8},
{"m":"oct-05","Base":0.12,"PHJ":0.12},{"m":"nov-05","Base":0.23,"PHJ":0.23},{"m":"dic-05","Base":0.25,"PHJ":0.25},{"m":"ene-06","Base":0.24,"PHJ":0.24},{"m":"feb-06","Base":0.2,"PHJ":0.2},{"m":"mar-06","Base":0.07,"PHJ":0.07},{"m":"abr-06","Base":-0.45,"PHJ":-0.45},{"m":"may-06","Base":-1.35,"PHJ":-1.35},{"m":"jun-06","Base":-2.3,"PHJ":-2.3},{"m":"jul-06","Base":-3.1,"PHJ":-3.1},{"m":"ago-06","Base":-2,"PHJ":-2},{"m":"sep-06","Base":-0.8,"PHJ":-0.8},
{"m":"oct-06","Base":0.12,"PHJ":0.12},{"m":"nov-06","Base":0.23,"PHJ":0.23},{"m":"dic-06","Base":0.25,"PHJ":0.25},{"m":"ene-07","Base":0.24,"PHJ":0.24},{"m":"feb-07","Base":0.2,"PHJ":0.2},{"m":"mar-07","Base":0.07,"PHJ":0.07},{"m":"abr-07","Base":-0.45,"PHJ":-0.45},{"m":"may-07","Base":-1.35,"PHJ":-1.35},{"m":"jun-07","Base":-2.3,"PHJ":-2.3},{"m":"jul-07","Base":-3.1,"PHJ":-3.1},{"m":"ago-07","Base":-2,"PHJ":-2},{"m":"sep-07","Base":-0.8,"PHJ":-0.8},
{"m":"oct-07","Base":0.12,"PHJ":0.12},{"m":"nov-07","Base":0.23,"PHJ":0.23},{"m":"dic-07","Base":0.25,"PHJ":0.25},{"m":"ene-08","Base":0.24,"PHJ":0.24},{"m":"feb-08","Base":0.2,"PHJ":0.2},{"m":"mar-08","Base":0.07,"PHJ":0.07},{"m":"abr-08","Base":-0.45,"PHJ":-0.45},{"m":"may-08","Base":-1.35,"PHJ":-1.35},{"m":"jun-08","Base":-2.3,"PHJ":-2.3},{"m":"jul-08","Base":-3.1,"PHJ":-3.1},{"m":"ago-08","Base":-2,"PHJ":-2},{"m":"sep-08","Base":-0.8,"PHJ":-0.8},
{"m":"oct-08","Base":0.12,"PHJ":0.12},{"m":"nov-08","Base":0.23,"PHJ":0.23},{"m":"dic-08","Base":0.25,"PHJ":0.25},{"m":"ene-09","Base":0.24,"PHJ":0.24},{"m":"feb-09","Base":0.2,"PHJ":0.2},{"m":"mar-09","Base":0.07,"PHJ":0.07},{"m":"abr-09","Base":-0.45,"PHJ":-0.45},{"m":"may-09","Base":-1.35,"PHJ":-1.35},{"m":"jun-09","Base":-2.3,"PHJ":-2.3},{"m":"jul-09","Base":-3.1,"PHJ":-3.1},{"m":"ago-09","Base":-2,"PHJ":-2},{"m":"sep-09","Base":-0.8,"PHJ":-0.8},
{"m":"oct-09","Base":-0.11,"PHJ":-0.11},{"m":"nov-09","Base":0,"PHJ":0},{"m":"dic-09","Base":0.02,"PHJ":0.02},{"m":"ene-10","Base":0.01,"PHJ":0.01},{"m":"feb-10","Base":-0.03,"PHJ":-0.03},{"m":"mar-10","Base":-0.16,"PHJ":-0.16},{"m":"abr-10","Base":-0.45,"PHJ":-0.45},{"m":"may-10","Base":-1.35,"PHJ":-1.35},{"m":"jun-10","Base":-2.3,"PHJ":-2.3},{"m":"jul-10","Base":-3.36,"PHJ":-3.36},{"m":"ago-10","Base":-2,"PHJ":-2},{"m":"sep-10","Base":-0.8,"PHJ":-0.8},
{"m":"oct-10","Base":-0.13,"PHJ":-0.13},{"m":"nov-10","Base":-0.02,"PHJ":-0.02},{"m":"dic-10","Base":0,"PHJ":0},{"m":"ene-11","Base":-0.01,"PHJ":-0.01},{"m":"feb-11","Base":-0.05,"PHJ":-0.05},{"m":"mar-11","Base":-0.18,"PHJ":-0.18},{"m":"abr-11","Base":-0.45,"PHJ":-0.45},{"m":"may-11","Base":-1.35,"PHJ":-1.35},{"m":"jun-11","Base":-2.3,"PHJ":-2.3},{"m":"jul-11","Base":-3.36,"PHJ":-3.36},{"m":"ago-11","Base":-2,"PHJ":-2},{"m":"sep-11","Base":-0.8,"PHJ":-0.8},
{"m":"oct-11","Base":-0.1,"PHJ":-0.1},{"m":"nov-11","Base":0.01,"PHJ":0.01},{"m":"dic-11","Base":0.03,"PHJ":0.06},{"m":"ene-12","Base":0.02,"PHJ":0.02},{"m":"feb-12","Base":-0.02,"PHJ":-0.02},{"m":"mar-12","Base":-0.15,"PHJ":-0.15},{"m":"abr-12","Base":-0.45,"PHJ":-0.45},{"m":"may-12","Base":-1.35,"PHJ":-1.35},{"m":"jun-12","Base":-2.3,"PHJ":-2.3},{"m":"jul-12","Base":-3.36,"PHJ":-3.36},{"m":"ago-12","Base":-2,"PHJ":-2},{"m":"sep-12","Base":-0.7,"PHJ":-0.7}
]},
"transform":[{"fold":["Base","PHJ"],"as":["serie","valor"]}],
"mark":{"type":"line","strokeWidth":2.6,"strokeJoin":"round","interpolate":"linear"},
"encoding":{
"x":{"field":"m","type":"ordinal","sort":null,"scale":{"type":"point","padding":0},
"axis":{"title":null,"values":["oct-40","may-42","dic-43","jul-45","feb-47","sep-48","abr-50","nov-51","jun-53","ene-55","ago-56","mar-58","oct-59","may-61","dic-62","jul-64","feb-66","sep-67","abr-69","nov-70","jun-72","ene-74","ago-75","mar-77","oct-78","may-80","dic-81","jul-83","feb-85","sep-86","abr-88","nov-89","jun-91","ene-93","ago-94","mar-96","oct-97","may-99","dic-00","jul-02","feb-04","sep-05","abr-07","nov-08","jun-10","ene-12"],
"labelAngle":270,"labelFont":"Lato","labelFontSize":14,"labelColor":"#595959","labelPadding":3,"labelOverlap":false,"domainColor":"#d9d9d9","domainWidth":1,"tickColor":"#d9d9d9","tickSize":5,"grid":false}},
"y":{"field":"valor","type":"quantitative","scale":{"domain":[-4,0.5],"nice":false,"zero":false},
"axis":{"title":"hm³","values":[0.5,0,-0.5,-1,-1.5,-2,-2.5,-3,-3.5,-4],"labelExpr":"'' + datum.value","grid":true,"gridColor":"#d9d9d9","gridWidth":1,"domain":false,"ticks":false,"labelPadding":14,"labelFont":"Lato","labelFontSize":14,"labelColor":"#595959","titleFont":"Lato","titleFontSize":13,"titleFontWeight":"normal","titleColor":"#595959","titlePadding":6}},
"color":{"field":"serie","type":"nominal","scale":{"domain":["Base","PHJ"],"range":["#FFC000","#4472C4"]},
"legend":{"title":null,"orient":"none","legendX":320,"legendY":558,"direction":"horizontal","symbolType":"stroke","symbolSize":1296,"symbolStrokeWidth":2.6,"labelFont":"Lato","labelFontSize":12.5,"labelColor":"#595959","labelOffset":5,"columnPadding":9,"labelExpr":"'Escenario ' + datum.label"}},
"strokeDash":{"field":"serie","type":"nominal","scale":{"domain":["Base","PHJ"],"range":[[1,0],[2.5,2.5]]},
"legend":{"title":null,"orient":"none","legendX":320,"legendY":558,"direction":"horizontal","symbolType":"stroke","symbolSize":1296,"symbolStrokeWidth":2.6,"labelFont":"Lato","labelFontSize":12.5,"labelColor":"#595959","labelOffset":5,"columnPadding":9,"labelExpr":"'Escenario ' + datum.label"}}
},
"config":{"view":{"stroke":null},"font":"Lato"}
}
